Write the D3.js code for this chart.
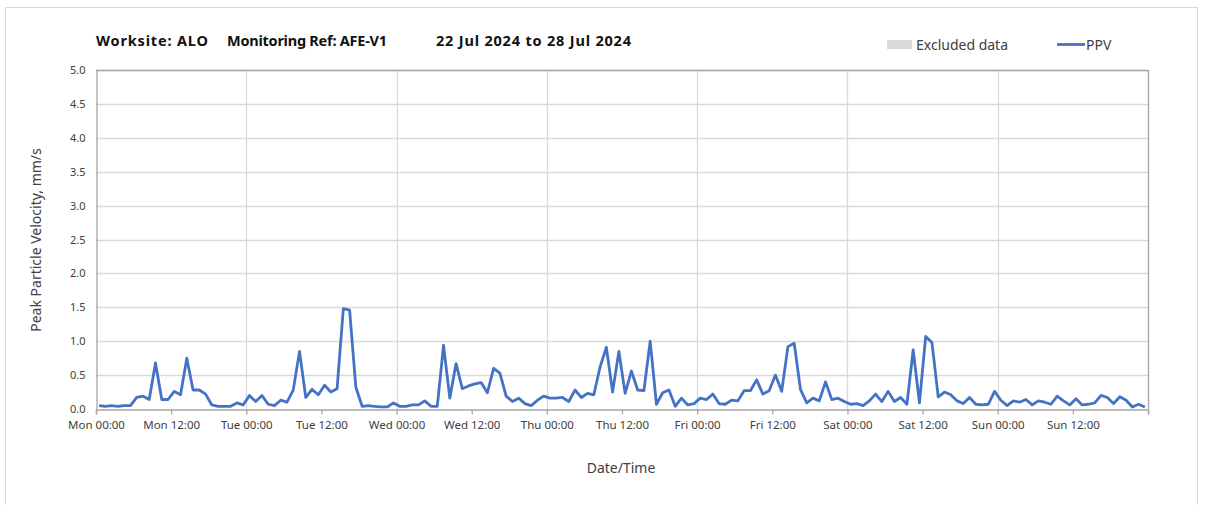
<!DOCTYPE html>
<html><head><meta charset="utf-8">
<script src="https://cdn.jsdelivr.net/npm/d3@7"></script>
<style>body{margin:0;background:#fff;} text{font-family:"Noto Sans","Open Sans",sans-serif;}</style>
</head><body><svg id="c" width="1208" height="505"></svg>
<script>
const startTime = "2024-07-22T00:00:00";
const endTime = "2024-07-29T00:00:00";
const sampleOffsetMinutes = 30;
const sampleIntervalMinutes = 60;
const ppv = [
0.05,0.04,0.05,0.04,0.05,0.05,0.17,0.19,0.14,0.68,0.14,0.14,0.26,0.21,0.75,0.28,0.28,0.22,0.06,0.04,0.04,0.04,0.09,0.06,
0.20,0.11,0.20,0.07,0.05,0.13,0.10,0.28,0.85,0.17,0.29,0.21,0.35,0.25,0.30,1.48,1.46,0.32,0.04,0.05,0.04,0.03,0.03,0.09,
0.04,0.04,0.06,0.06,0.12,0.04,0.04,0.94,0.16,0.67,0.30,0.34,0.37,0.39,0.24,0.60,0.53,0.19,0.11,0.16,0.08,0.05,0.13,0.19,
0.16,0.16,0.17,0.11,0.28,0.17,0.23,0.21,0.62,0.91,0.25,0.85,0.23,0.56,0.28,0.27,1.00,0.07,0.24,0.28,0.04,0.16,0.06,0.08,
0.16,0.14,0.22,0.08,0.07,0.13,0.12,0.27,0.27,0.43,0.22,0.27,0.50,0.26,0.92,0.97,0.29,0.09,0.16,0.12,0.40,0.14,0.16,0.11,
0.07,0.08,0.05,0.12,0.22,0.11,0.26,0.11,0.17,0.07,0.87,0.09,1.07,0.98,0.18,0.25,0.21,0.12,0.08,0.17,0.07,0.06,0.07,0.26,
0.13,0.05,0.12,0.10,0.14,0.06,0.12,0.10,0.07,0.19,0.12,0.06,0.15,0.06,0.07,0.09,0.20,0.17,0.08,0.18,0.13,0.03,0.07,0.03
];
const excludedRanges = [];
const yTicks = [0,0.5,1,1.5,2,2.5,3,3.5,4,4.5,5];
const titleParts = ["Worksite: ALO", "Monitoring Ref: AFE-V1", "22 Jul 2024 to 28 Jul 2024"];
const legendLabels = ["Excluded data", "PPV"];
const yTitle = "Peak Particle Velocity, mm/s";
const xTitle = "Date/Time";

const svg = d3.select("#c");
const m = {l:96, r:1148, t:70, b:409};
const t0 = new Date(startTime), t1 = new Date(endTime);
const x = d3.scaleTime().domain([t0,t1]).range([m.l,m.r]);
const y = d3.scaleLinear().domain([0,5]).range([m.b,m.t]);
const data = ppv.map((v,i)=>({t:new Date(t0.getTime()+(sampleOffsetMinutes+i*sampleIntervalMinutes)*60000), v}));

svg.append("rect").attr("x",5.5).attr("y",7.5).attr("width",1192).attr("height",505).attr("fill","none").attr("stroke","#d9d9d9");

const dayTicks = d3.timeDay.range(t0, t1, 1).slice(1);
svg.append("g").selectAll("line").data(yTicks.slice(1)).join("line")
  .attr("x1",m.l).attr("x2",m.r).attr("y1",d=>Math.round(y(d))+0.5).attr("y2",d=>Math.round(y(d))+0.5)
  .attr("stroke","#d9d9d9").attr("stroke-width",1.3);
svg.append("g").selectAll("line").data(dayTicks).join("line")
  .attr("x1",d=>Math.round(x(d))+0.5).attr("x2",d=>Math.round(x(d))+0.5).attr("y1",m.t).attr("y2",m.b)
  .attr("stroke","#d9d9d9").attr("stroke-width",1.3);
svg.append("g").selectAll("rect").data(excludedRanges).join("rect")
  .attr("x",d=>x(new Date(d[0]))).attr("width",d=>x(new Date(d[1]))-x(new Date(d[0])))
  .attr("y",m.t).attr("height",m.b-m.t).attr("fill","#d9d9d9");
svg.append("line").attr("x1",m.l).attr("x2",m.r).attr("y1",m.t+0.5).attr("y2",m.t+0.5).attr("stroke","#a6a6a6").attr("stroke-width",1.3);
svg.append("line").attr("x1",m.r+0.5).attr("x2",m.r+0.5).attr("y1",m.t).attr("y2",m.b).attr("stroke","#a6a6a6").attr("stroke-width",1.3);

const xAxis = d3.axisBottom(x).ticks(d3.timeHour.every(12)).tickSize(5).tickPadding(6)
  .tickFormat(d=>d3.timeFormat("%a %H:%M")(d));
const gx = svg.append("g").attr("transform",`translate(0,${m.b+0.5})`).call(xAxis);
gx.selectAll("text").filter(d=>d.getTime()===t1.getTime()).remove();
gx.select(".domain").attr("stroke","#a6a6a6").attr("stroke-width",1.3);
gx.selectAll(".tick line").attr("stroke","#a6a6a6").attr("stroke-width",1.3);
gx.selectAll("text").attr("font-size",11.5).attr("fill","#404040");

const yAxis = d3.axisLeft(y).tickValues(yTicks).tickSize(0).tickPadding(11).tickFormat(d3.format(".1f"));
const gy = svg.append("g").attr("transform",`translate(${m.l+0.5},0)`).call(yAxis);
gy.select(".domain").attr("stroke","#a6a6a6").attr("stroke-width",1.3);
gy.selectAll("text").attr("font-size",11).attr("fill","#404040");

svg.append("path").datum(data).attr("fill","none").attr("stroke","#4472C4").attr("stroke-width",2.8)
  .attr("stroke-linejoin","round").attr("d",d3.line().x(d=>x(d.t)).y(d=>y(d.v)));

const tx = [96, 227, 436];
const tw = [112, 160, 195];
svg.append("g").selectAll("text").data(titleParts).join("text")
  .attr("x",(d,i)=>tx[i]).attr("y",46).attr("font-size",14.5).attr("font-weight","bold").attr("fill","#111")
  .attr("textLength",(d,i)=>tw[i]).attr("lengthAdjust","spacing").text(d=>d);

svg.append("text").attr("transform","translate(41,240) rotate(-90)").attr("text-anchor","middle")
  .attr("font-size",14).attr("fill","#404040").text(yTitle);
svg.append("text").attr("x",621).attr("y",473).attr("text-anchor","middle")
  .attr("font-size",14).attr("fill","#404040").text(xTitle);

svg.append("rect").attr("x",887).attr("y",40).attr("width",25).attr("height",9).attr("fill","#d9d9d9");
svg.append("text").attr("x",916).attr("y",50).attr("font-size",14).attr("fill","#404040").text(legendLabels[0]);
svg.append("line").attr("x1",1057).attr("x2",1085).attr("y1",44.5).attr("y2",44.5).attr("stroke","#4472C4").attr("stroke-width",2.8);
svg.append("text").attr("x",1086).attr("y",50).attr("font-size",14).attr("fill","#404040").text(legendLabels[1]);
</script></body></html>
